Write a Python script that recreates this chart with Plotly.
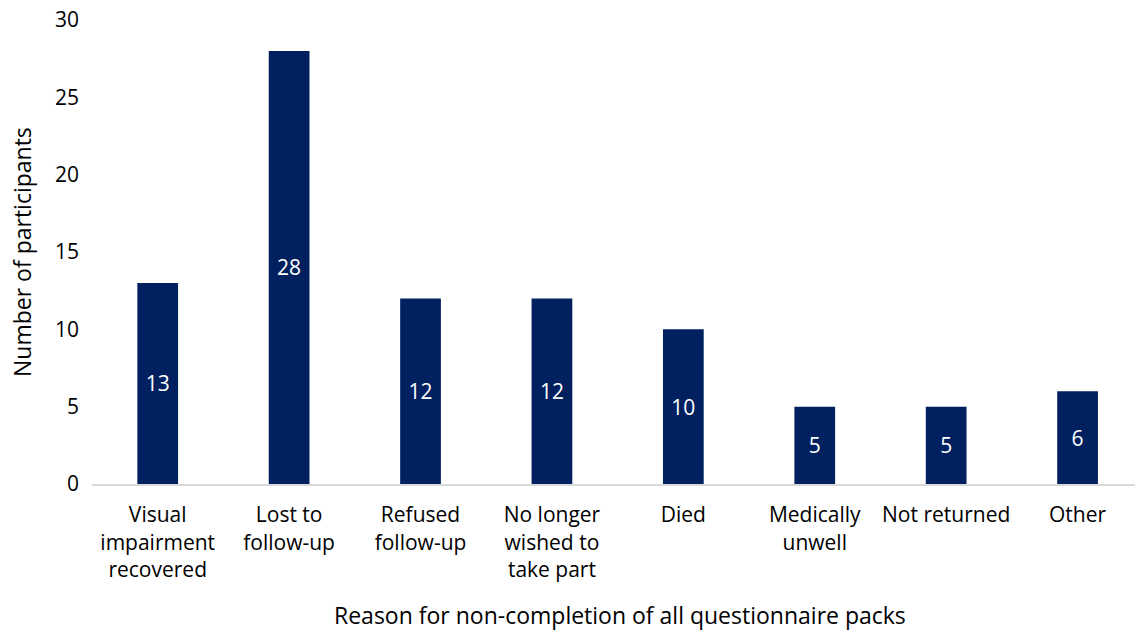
import plotly.graph_objects as go

categories = [
    "Visual<br>impairment<br>recovered",
    "Lost to<br>follow-up",
    "Refused<br>follow-up",
    "No longer<br>wished to<br>take part",
    "Died",
    "Medically<br>unwell",
    "Not returned",
    "Other",
]
values = [13, 28, 12, 12, 10, 5, 5, 6]
y_ticks = [0, 5, 10, 15, 20, 25, 30]

FONT = "Open Sans"
BAR = "#002060"

fig = go.Figure(
    go.Bar(
        x=categories,
        y=values,
        marker=dict(color=BAR, line=dict(width=0)),
        width=0.31,
        text=values,
        textposition="inside",
        insidetextanchor="middle",
        textangle=0,
        textfont=dict(family=FONT, size=21, color="white"),
        constraintext="none",
        hoverinfo="skip",
    )
)

fig.update_layout(
    width=1135,
    height=631,
    margin=dict(l=92, r=0, t=20, b=147),
    paper_bgcolor="white",
    plot_bgcolor="white",
    showlegend=False,
    font=dict(family=FONT, size=21, color="#000000"),
    xaxis=dict(
        type="category",
        range=[-0.5, 7.437],
        showline=True,
        linecolor="#d9d9d9",
        linewidth=2,
        showgrid=False,
        ticks="",
        ticklabelstandoff=11,
        tickfont=dict(family=FONT, size=21, color="#000000"),
        zeroline=False,
    ),
    yaxis=dict(
        range=[0, 30],
        tickvals=y_ticks,
        showline=False,
        showgrid=False,
        zeroline=False,
        ticks="",
        ticklabelstandoff=12,
        tickfont=dict(family=FONT, size=21, color="#000000"),
    ),
    annotations=[
        dict(
            text="Reason for non-completion of all questionnaire packs",
            xref="paper", yref="paper",
            x=(620 - 92) / 1043, y=-(615 - 484) / 464,
            xanchor="center", yanchor="middle",
            showarrow=False,
            font=dict(family=FONT, size=23, color="#000000"),
        ),
        dict(
            text="Number of participants",
            xref="paper", yref="paper",
            x=(22 - 92) / 1043, y=0.5,
            xanchor="center", yanchor="middle",
            textangle=-90,
            showarrow=False,
            font=dict(family=FONT, size=23, color="#000000"),
        ),
    ],
)

fig.write_html("out.html")
